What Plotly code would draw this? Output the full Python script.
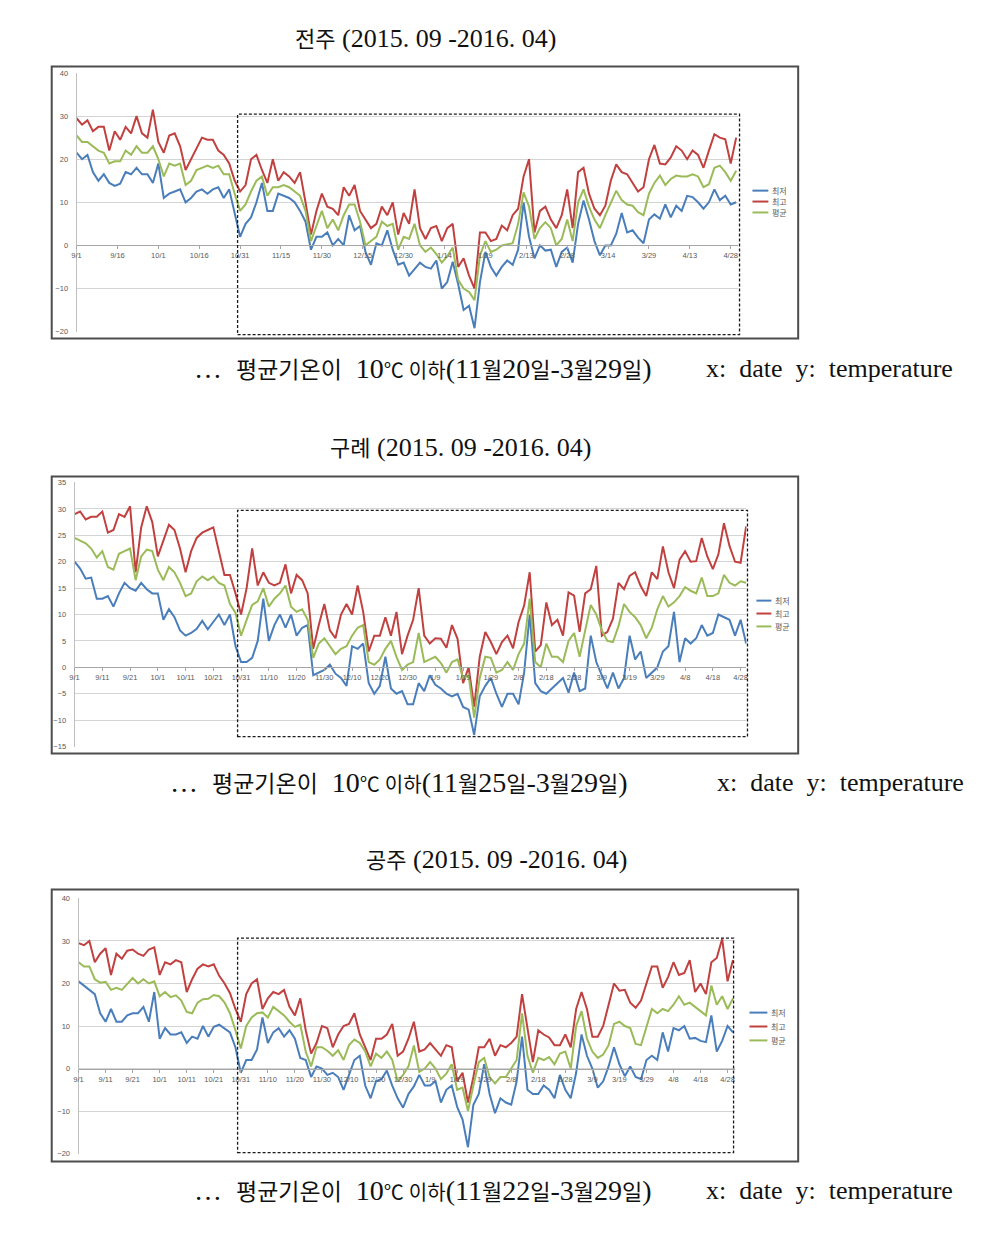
import pandas as pd
import plotly.graph_objects as go

# ---------------- data (every 2nd day, 2015-09-01 .. 2016-04-30) ----------------
START = "2015-09-01"
SERIES_NAMES = ["최저", "최고", "평균"]

jeonju_max = [29.5, 28, 29, 26.5, 27.5, 27.5, 22, 26.5, 24.5, 27.5,
              26, 30, 26, 25, 31.5, 24, 21.5, 25.5, 26, 23,
              17.5, 20, 22.5, 25, 24.5, 24.5, 22, 21, 19, 15,
              12.5, 14, 20, 21, 17.5, 14.5, 20, 15, 17, 16,
              14.5, 17, 10, 2.5, 8, 12, 9, 8.5, 7, 13.5,
              11.5, 14, 8, 6, 4, 5, 9, 7, 10, 2.5,
              7.5, 5, 13, 4, 1.5, 4, 4.5, 1, 4, 5,
              -5, -3, -7, -10, 3, 3, 1, 1.5, 4.6, 3.5,
              7, 8.5, 16, 20, 3, 8, 9, 6, 4, 7,
              13, 4, 17, 18, 12, 8.5, 7, 9.2, 15, 18.8,
              17, 16.5, 14.5, 12.5, 13.5, 20, 23.3, 19, 18.8, 20.4,
              23, 22, 20, 22, 21, 18, 22, 25.8, 25, 24.6,
              19, 25]
jeonju_mean = [25.5, 24, 24, 23, 22, 21.5, 19, 19.5, 19.5, 22,
               21, 23, 21.5, 21.5, 23, 20, 16, 19, 18.5, 19,
               14, 15, 17.5, 18, 18.5, 18, 18.5, 16.5, 16.5, 12,
               8, 9.5, 12.5, 15, 16, 11.5, 13.5, 13.5, 14, 13.5,
               12.5, 11.5, 8, 1, 4.5, 8, 4, 6, 3.5, 7,
               9.5, 9.5, 5.5, 0, 1, 2, 5.5, 4.5, 5, -1,
               2, 1.5, 5, 0, -1.5, -0.5, -2, -4, -2.5, -0.5,
               -8, -10, -10.8, -12.7, -2.3, 1, -1.5, -1, 0, 0.2,
               0.5, 5, 12.3, 9, 1.5, 4, 5.4, 4, 0, 1.5,
               6, 1, 10, 13, 9, 6, 4, 7, 10, 12.7,
               10.5, 9.5, 9.2, 7.7, 7, 12, 14.5, 16.2, 14, 15.4,
               16.2, 16, 16, 16.5, 16, 13.5, 14.2, 18, 18.5, 17,
               15, 17.3]
jeonju_min = [21.5, 20, 21, 17, 15, 16.5, 14.5, 13.8, 14.3, 17,
              16.5, 18, 16.5, 16.5, 14.5, 19, 11, 12, 12.5, 13,
              10, 11, 12.5, 13, 12, 13, 13.5, 11, 13, 7.5,
              2, 5, 6.5, 10, 14.5, 8, 8, 12, 11.5, 11,
              10, 8, 5.5, -1, 2, 2, 3, 0, 1.5, 0,
              7, 3.5, 4.5, -1.5, -4.5, 0.5, 0, 3.5, -1, -4.5,
              -4, -7, -5.5, -4, -5, -5.4, -3.5, -10, -8.5, -3.8,
              -9, -15, -14, -19.2, -8.5, -1.5, -5, -7, -5, -3.5,
              -4.5, -1, 10, 2, -3, 0, -1.2, -1, -5, -1.5,
              -0.5, -4, 5, 10.4, 6, 1, -2.3, 0, 0, 2.7,
              7.5, 3, 3.5, 1.8, 0.5, 6, 7.2, 6.2, 9.5, 6.5,
              9.2, 8, 11.5, 11.2, 10, 8.5, 10, 13, 10.5, 11.5,
              9.5, 10]

gurye_max = [29, 29.5, 28, 28.5, 28.5, 29.5, 25.5, 26, 29, 28.5,
             30.5, 18, 26.5, 30.5, 27.5, 21, 24, 27, 26, 22.5,
             18, 22, 24.5, 25.5, 26, 26.5, 22, 17.5, 17.5, 14,
             10, 15, 22.5, 15.5, 18, 16, 15.5, 16, 19.5, 14,
             17.5, 16.5, 14, 3.5, 8, 12, 7, 5.5, 10, 12,
             10, 15.5, 10.5, 3, 6, 6, 9.5, 6, 10.5, 2.5,
             6, 9, 15, 6, 4.5, 5.5, 5.4, 3.7, 8, 5.4,
             -3, 0, -7.5, 2, 6.7, 4.8, 2.5, 4.8, 6, 3.6,
             8.6, 11.7, 18, 3, 4.2, 12.3, 8, 9, 6, 14.2,
             13.6, 6.7, 14, 14.8, 19.2, 6, 6.7, 9.2, 16, 14.8,
             17.3, 18, 15.4, 13.5, 18, 16.7, 22.9, 18, 15, 20.4,
             22, 20, 20.1, 24.5, 21, 18.6, 21.4, 27.3, 23, 20,
             19.8, 26.7]
gurye_mean = [24.5, 24, 23.5, 22.5, 20.8, 22, 19, 18.5, 21.5, 22,
              22.5, 16.5, 21, 22.3, 22, 18.5, 16.5, 19, 18, 16,
              13.5, 14, 16.3, 17.2, 16.5, 17.2, 16, 15.5, 12, 10.3,
              6, 9, 11.8, 12.5, 15, 11.5, 13, 14, 15.5, 11.5,
              10.5, 11, 9, 1.8, 4.5, 5.5, 4, 2.5, 3.5, 4,
              6, 7.5, 8, 1, 0.5, 1.5, 3.5, 5, 2, -0.5,
              0.5, 1, 6.5, 1, 1.5, 2, 0.8, -1, 1, 1.5,
              -2, -1.5, -9.5, -2, 2, 1.8, -1, -0.5, 1, -0.5,
              2.5, 4.5, 13, 1, 0, 4.5, 2, 2, 1, 5,
              6.5, 2, 7, 11.8, 10, 7, 5, 4.8, 7.8, 12,
              10.5, 9.5, 8, 5.5, 7.5, 11, 13.5, 11.5, 12.3, 13.5,
              15.2, 14.5, 14, 17, 13.5, 13.5, 14, 17.5, 16, 15.5,
              16.3, 16]
gurye_min = [20, 18.7, 16.8, 17, 13, 13, 13.5, 11.5, 14, 16,
             15, 14.5, 16, 14.8, 14, 14, 9, 11, 9.5, 7,
             6, 6.5, 7.3, 8.8, 7.2, 8.5, 10, 8, 10, 4,
             1, 1, 1.8, 5, 13, 5, 8, 10, 7.5, 10,
             6, 7.5, 8, -1.5, -1, -0.5, 0.5, -1.2, -2, -3.5,
             4, 3.5, 4.5, -3, -5, -3.5, 2, -4, -5, -4.5,
             -7, -7, -3, -4.5, -1.5, -3.3, -4, -5, -5.5, -5,
             -7.5, -8, -12.8, -5.5, -3.5, -2, -5, -7.5, -5, -5,
             -7, -1, 10, -3, -4.5, -5, -4, -3, -2, -4.8,
             -1, -4.5, -4, 6, 1, -1.5, -4, -1, -4, -2,
             6, 1.5, 3, -2, -1, 0, 3, 4, 10.5, 1,
             5.5, 4.5, 5.5, 8, 6, 6.5, 10, 9.5, 9, 6,
             9, 4.5]

gongju_max = [29.5, 29, 30, 25, 27, 28.3, 22, 27, 25.8, 27.7,
              28, 27, 26.5, 28, 28.5, 22, 25, 24.5, 25.5, 25,
              18, 21, 23.5, 24.5, 24, 24.5, 21.8, 20, 17.7, 14,
              11, 17.5, 20, 21, 14, 16.5, 18, 17.5, 18.5, 14.5,
              12.5, 16.5, 9, 3.5, 6, 10, 9.5, 5, 8, 10,
              10.5, 13, 8, 5, 2, 7, 7, 8, 10.5, 3,
              4, 7, 11, 4, 4.5, 6, 4.5, 3, 5.5, 5,
              -3, -1, -8, -2, 5, 5, 7, 3, 5.5, 5,
              6, 7.5, 17.5, 9, 1.5, 9, 8, 7.3, 5.5, 5.5,
              8, 5, 14, 18, 14, 7.5, 7.5, 10, 15, 20,
              18.3, 18.5, 15.5, 14.3, 16, 20, 24, 24, 19, 21.5,
              25, 22, 22.5, 25.5, 18, 20, 17.5, 25, 26, 30.5,
              20.5, 25.5]
gongju_mean = [25, 24, 24, 21, 20.2, 20.4, 18.5, 19, 18.5, 20,
               21.3, 20, 21, 20, 20.5, 17, 18, 16.8, 17.2, 16,
               13.3, 13, 15.5, 16.3, 16.4, 17.3, 17, 15.5, 13, 9,
               4.7, 10, 12, 13, 13.2, 12, 14.5, 13.5, 12.5, 11,
               9.8, 10.3, 4, 0.5, 5, 5, 4.2, 3, 4.3, 2,
               5.5, 6.8, 6, 4, 0.5, 3.5, 2.5, 4, 2, -3,
               -1.5, 0.5, 5.4, -0.8, 0, 1.5, 0, -2.5, -1.2, 1,
               -5, -4.5, -10, -4, 1.5, 2.5, -2, -3.5, -2, -2,
               0, 2, 13, 3, -1, 2.5, 2, 2.7, 1, 3.5,
               4, 0, 10, 13.5, 7, 4, 2.5, 3.3, 5.5, 10.5,
               11, 10, 9.5, 5.8, 5.5, 10, 14, 13, 14, 13.5,
               15, 17, 15, 15.5, 14.5, 13.5, 12.5, 19.5, 15, 17,
               14, 16.5]
gongju_min = [20.5, 19.5, 18.5, 17.5, 13, 11, 14, 11, 11, 12.5,
              13, 13, 14.5, 11, 18, 7, 9.5, 8, 8, 8.5,
              6, 7.5, 7, 10, 7.5, 9.8, 10.3, 9.5, 8.5, 5,
              -1, 2, 2, 4.5, 12, 6, 8.5, 9.5, 7.5, 9,
              7, 2.5, 2, -2, 0.5, 0, -1.5, -1, -2, -5,
              -1.5, 2, 3, -4, -7, -3, -2.5, -0.5, -4, -7,
              -9.2, -6, -4.2, -1.5, -4, -4, -3, -8, -5, -4,
              -9, -12, -18.5, -8.5, -6, 1, -6, -10.5, -7, -8,
              -8.5, -3, 7.5, -5, -6, -6, -4, -5, -7, -1.5,
              -5, -7, -1, 8, 3, 0, -4.5, -3, 0.5, 5,
              1, -1.8, 0.5, -2, -2.5, 2, 3, 2, 8.5, 4,
              9.5, 9, 10, 7, 7.2, 6.5, 6.2, 12.5, 4, 6.5,
              10, 8.5]

# tick labels
ticks15_dates = ["2015-09-01", "2015-09-16", "2015-10-01", "2015-10-16", "2015-10-31",
                 "2015-11-15", "2015-11-30", "2015-12-15", "2015-12-30", "2016-01-14",
                 "2016-01-29", "2016-02-13", "2016-02-28", "2016-03-14", "2016-03-29",
                 "2016-04-13", "2016-04-28"]
ticks15_text = ["9/1", "9/16", "10/1", "10/16", "10/31", "11/15", "11/30", "12/15", "12/30",
                "1/14", "1/29", "2/13", "2/28", "3/14", "3/29", "4/13", "4/28"]
ticks10_dates = ["2015-09-01", "2015-09-11", "2015-09-21", "2015-10-01", "2015-10-11",
                 "2015-10-21", "2015-10-31", "2015-11-10", "2015-11-20", "2015-11-30",
                 "2015-12-10", "2015-12-20", "2015-12-30", "2016-01-09", "2016-01-19",
                 "2016-01-29", "2016-02-08", "2016-02-18", "2016-02-28", "2016-03-09",
                 "2016-03-19", "2016-03-29", "2016-04-08", "2016-04-18", "2016-04-28"]
ticks10_text = ["9/1", "9/11", "9/21", "10/1", "10/11", "10/21", "10/31", "11/10", "11/20",
                "11/30", "12/10", "12/20", "12/30", "1/9", "1/19", "1/29", "2/8", "2/18",
                "2/28", "3/9", "3/19", "3/29", "4/8", "4/18", "4/28"]

station_names = ["전주", "구례", "공주"]
period_text = "(2015. 09 -2016. 04)"
caption_head = "평균기온이"
caption_ranges = [("11", "20", "3", "29"), ("11", "25", "3", "29"), ("11", "22", "3", "29")]
axis_note = "x:\u00a0 date\u00a0 y:\u00a0 temperature"

# ---------------- layout helpers ----------------
W, H = 993, 1237
def px(x):
    return x / W
def py(y):
    return 1 - y / H

COLORS = {"최저": "#4A7EBB", "최고": "#C0413F", "평균": "#9BBB59"}
TICKFONT = dict(family="Liberation Sans, Arial, sans-serif", size=7.5, color="#595959")
SERIF = "Liberation Serif, Noto Sans CJK KR, serif"

def sz(s, size):
    return f'<span style="font-size:{size}px">{s}</span>'

panels = [
    dict(data=[jeonju_min, jeonju_max, jeonju_mean], xpx=(72, 737), ypx=(69.5, 330), yr=(-20, 40), dt=10,
         rng=["2015-09-01", "2016-04-30 12:00"], tv=ticks15_dates, tt=ticks15_text,
         box=(47, 63, 798, 337), dash=(234, 111, 739, 333), leg=(752, 768, [188, 199, 210]),
         title=(423, 35), cap=(188, 367), note=(703, 367)),
    dict(data=[gurye_min, gurye_max, gurye_mean], xpx=(70, 746), ypx=(482, 748), yr=(-15, 35), dt=5,
         rng=["2015-09-01", "2016-04-30 03:00"], tv=ticks10_dates, tt=ticks10_text,
         box=(47, 476, 798, 755), dash=(234, 510, 747, 738), leg=(756, 771, [601, 614, 627]),
         title=(458, 447), cap=(164, 784), note=(714, 784)),
    dict(data=[gongju_min, gongju_max, gongju_mean], xpx=(74, 734), ypx=(901, 1158), yr=(-20, 40), dt=10,
         rng=["2015-09-01", "2016-04-30 14:00"], tv=ticks10_dates, tt=ticks10_text,
         box=(47, 892, 798, 1166), dash=(234, 941, 733, 1157), leg=(749, 767, [1016, 1030, 1044]),
         title=(494, 862), cap=(188, 1195), note=(703, 1195)),
]

fig = go.Figure()
shapes, annotations = [], []
layout_axes = {}

for i, p in enumerate(panels):
    n = "" if i == 0 else str(i + 1)
    for name, vals in zip(SERIES_NAMES, p["data"]):
        dates = pd.date_range(START, periods=len(vals), freq="2D")
        fig.add_trace(go.Scatter(
            x=dates, y=vals, mode="lines", name=name, showlegend=False,
            line=dict(color=COLORS[name], width=2),
            xaxis="x" + n, yaxis="y" + n,
        ))
    y0p, y1p = py(p["ypx"][1]), py(p["ypx"][0])
    zero_pos = y0p + (0 - p["yr"][0]) / (p["yr"][1] - p["yr"][0]) * (y1p - y0p)
    layout_axes["xaxis" + n] = dict(
        domain=[px(p["xpx"][0]), px(p["xpx"][1])], anchor="free", position=zero_pos,
        type="date", range=p["rng"], tickmode="array", tickvals=p["tv"], ticktext=p["tt"],
        showgrid=False, zeroline=False, showline=True, linecolor="#A6A6A6", linewidth=1,
        ticks="outside", ticklen=3, tickcolor="#A6A6A6", tickfont=TICKFONT, tickangle=0,
    )
    layout_axes["yaxis" + n] = dict(
        domain=[y0p, y1p], anchor="x" + n, range=list(p["yr"]), dtick=p["dt"], tick0=0,
        showgrid=True, gridcolor="#D4D4D4", gridwidth=1.3, zeroline=False,
        showline=True, linecolor="#BFBFBF", linewidth=1, ticks="", tickfont=TICKFONT,
        ticklabelstandoff=6,
    )
    # legend (line samples + labels)
    lx0, lx1, lys = p["leg"]
    for name, ly in zip(SERIES_NAMES, lys):
        shapes.append(dict(type="line", xref="paper", yref="paper",
                           x0=px(lx0), x1=px(lx1), y0=py(ly), y1=py(ly),
                           line=dict(color=COLORS[name], width=2)))
        annotations.append(dict(text=name, x=px(lx1 + 2), y=py(ly), xref="paper", yref="paper",
                                xanchor="left", yanchor="middle", showarrow=False,
                                font=dict(family="Noto Sans CJK KR, sans-serif", size=8, color="#595959")))
    bx = p["box"]
    shapes.append(dict(type="rect", xref="paper", yref="paper",
                       x0=px(bx[0]), x1=px(bx[2]), y0=py(bx[3]), y1=py(bx[1]),
                       line=dict(color="#4D4D4D", width=2), layer="above"))
    dx = p["dash"]
    shapes.append(dict(type="rect", xref="paper", yref="paper",
                       x0=px(dx[0]), x1=px(dx[2]), y0=py(dx[3]), y1=py(dx[1]),
                       line=dict(color="#1A1A1A", width=1.3, dash="3px,2px"), layer="above"))
    title_text = sz(station_names[i], 22) + " " + period_text
    annotations.append(dict(text=title_text, x=px(p["title"][0]), y=py(p["title"][1]),
                            xref="paper", yref="paper", xanchor="center", yanchor="middle",
                            showarrow=False, font=dict(family=SERIF, size=26, color="#111111")))
    a, b, c, d = caption_ranges[i]
    cap_text = ("…\u00a0 " + sz(caption_head, 23) + "\u00a0 10" + sz("℃", 20) + sz(" 이하", 20)
                + "(" + a + sz("월", 22) + b + sz("일", 22) + "-" + c + sz("월", 22) + d
                + sz("일", 22) + ")")
    annotations.append(dict(text=cap_text, x=px(p["cap"][0]), y=py(p["cap"][1]),
                            xref="paper", yref="paper", xanchor="left", yanchor="middle",
                            showarrow=False, font=dict(family=SERIF, size=28, color="#111111")))
    annotations.append(dict(text=axis_note, x=px(p["note"][0]), y=py(p["note"][1]),
                            xref="paper", yref="paper", xanchor="left", yanchor="middle",
                            showarrow=False, font=dict(family=SERIF, size=26, color="#111111")))

fig.update_layout(
    width=W, height=H, margin=dict(l=0, r=0, t=0, b=0),
    paper_bgcolor="white", plot_bgcolor="white",
    shapes=shapes, annotations=annotations, showlegend=False,
    **layout_axes,
)

fig.write_html("out.html", config={"displayModeBar": False},
               post_script="document.body.style.margin='0px';")
